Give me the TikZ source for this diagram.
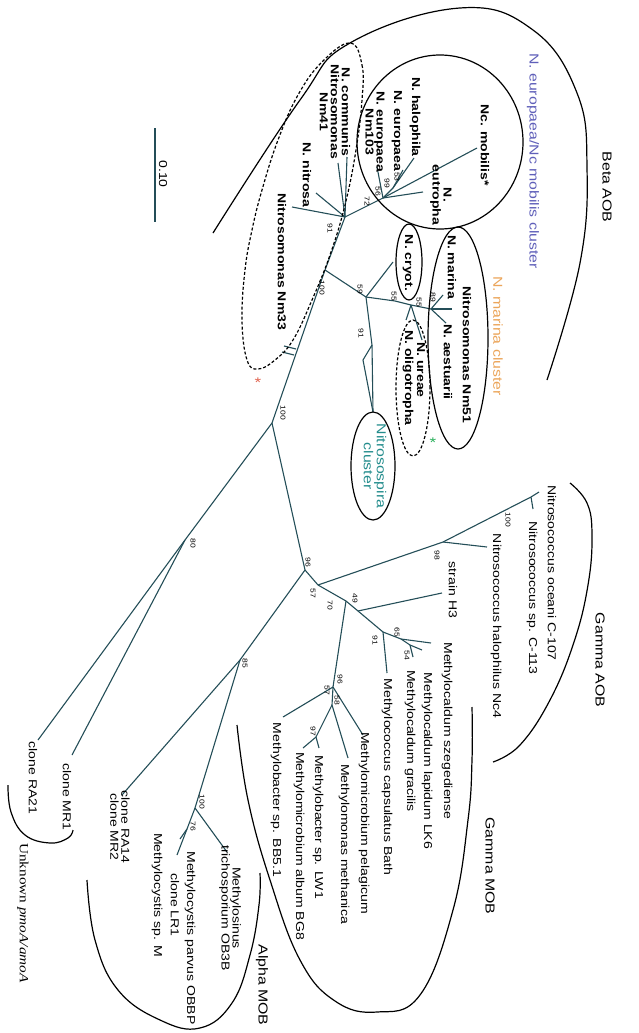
\documentclass[tikz,border=0pt]{standalone}
\usepackage{fontspec}
\setmainfont{Liberation Sans}[FakeStretch=1.22]
\newfontfamily\unkfont{Liberation Serif}[FakeStretch=1.22]
\usetikzlibrary{positioning,calc}
\definecolor{branchcol}{RGB}{36,78,88}
\definecolor{eurocol}{RGB}{95,95,185}
\definecolor{marcol}{RGB}{235,165,90}
\definecolor{spiracol}{RGB}{35,140,140}
\definecolor{redstar}{RGB}{225,100,80}
\definecolor{greenstar}{RGB}{40,175,90}

\begin{document}
\begin{tikzpicture}[
		x=1pt, y=-1pt,
		taxon/.style={rotate=-90, inner sep=0pt, align=center, font=\fontsize{11.5}{11}\selectfont},
		btaxon/.style={taxon, font=\fontsize{11.5}{11}\selectfont\bfseries},
		grouplab/.style={rotate=-90, inner sep=0pt, align=center, font=\fontsize{13}{13}\selectfont},
		boot/.style={rotate=-90, inner sep=0pt, font=\fontsize{7}{7}\selectfont},
		branch/.style={draw=branchcol, line width=1.1pt},
		hull/.style={draw=black, line width=1.2pt},
		dhull/.style={hull, dash pattern=on 3pt off 2pt}
		]
		\useasboundingbox (0,0) rectangle (638,1033);
		
		% ======================
		% Tree nodes
		% ======================
		\coordinate (b0) at (345,217);
		\coordinate (e0) at (383,198);
		\coordinate (e1) at (393,188);
		\coordinate (n1) at (325,270);
		\coordinate (ns) at (366,297);
		\coordinate (sp1) at (372,345);
		\coordinate (sp2) at (363,360);
		\coordinate (m1) at (395,301);
		\coordinate (m2) at (411,305);
		\coordinate (m3) at (431,309);
		\coordinate (n2) at (272,423);
		\coordinate (u0) at (185,540);
		\coordinate (g0) at (305,570);
		\coordinate (g1) at (318,585);
		\coordinate (gA) at (443,542);
		\coordinate (gB) at (531,497);
		\coordinate (g2) at (346,601);
		\coordinate (h0) at (358,611);
		\coordinate (g3) at (383,632);
		\coordinate (c0) at (401,639);
		\coordinate (c1) at (410,645);
		\coordinate (mo0) at (333,687);
		\coordinate (mo1) at (332,705);
		\coordinate (mo2) at (316,737);
		\coordinate (a0) at (240,660);
		\coordinate (a1) at (195,808);
		\coordinate (a2) at (187,829);
		
		% ======================
		% Tips
		% ======================
		\coordinate (tNitrosa) at (316,193);
		\coordinate (tNm33) at (292,207);
		\coordinate (tCommunis) at (347,157);
		\coordinate (tNm41) at (338,163);
		\coordinate (tMobilis) at (477,148);
		\coordinate (tEutropha) at (423,192);
		\coordinate (tHalophila) at (414,158);
		\coordinate (tEuropaea) at (403,170);
		\coordinate (tNm103) at (377,167);
		\coordinate (tCryot) at (393,262);
		\coordinate (tSpira) at (373,412);
		\coordinate (tUreae) at (422,340);
		\coordinate (tOligo) at (406,320);
		\coordinate (tMarina) at (443,295);
		\coordinate (tAestuarii) at (446,323);
		\coordinate (tNm51) at (452,309);
		\coordinate (tRA21) at (38,740);
		\coordinate (tMR1) at (72,755);
		\coordinate (tOceani) at (539,492);
		\coordinate (tC113) at (533,509);
		\coordinate (tNc4) at (487,547);
		\coordinate (tH3) at (442,593);
		\coordinate (tSzeg) at (431,643);
		\coordinate (tLapidum) at (422,650);
		\coordinate (tGracilis) at (413,657);
		\coordinate (tBath) at (387,673);
		\coordinate (tPelagicum) at (363,735);
		\coordinate (tBB51) at (283,717);
		\coordinate (tMethanica) at (348,758);
		\coordinate (tLW1) at (319,748);
		\coordinate (tBG8) at (303,748);
		\coordinate (tRA14) at (122,795);
		\coordinate (tSinus) at (227,852);
		\coordinate (tParvus) at (177,855);
		\coordinate (tLR1) at (180,839);
		
		% ======================
		% Branches
		% ======================
		\draw[branch] (b0) -- (n1) -- (n2);
		\draw[branch] (b0) -- (tNitrosa);
		\draw[branch] (b0) -- (tNm33);
		\draw[branch] (b0) -- (tCommunis);
		\draw[branch] (b0) -- (tNm41);
		\draw[branch] (b0) -- (e0);
		\draw[branch] (e0) -- (tMobilis);
		\draw[branch] (e0) -- (tEutropha);
		\draw[branch] (e0) -- (tNm103);
		\draw[branch] (e0) -- (e1);
		\draw[branch] (e1) -- (tHalophila);
		\draw[branch] (e1) -- (tEuropaea);
		\draw[branch] (n1) -- (ns);
		\draw[branch] (ns) -- (tCryot);
		\draw[branch] (ns) -- (sp1) -- (tSpira);
		\draw[branch] (sp1) -- (sp2) -- (tSpira);
		\draw[branch] (ns) -- (m1) -- (m2) -- (m3);
		\draw[branch] (m2) -- (tUreae);
		\draw[branch] (m2) -- (tOligo);
		\draw[branch] (m3) -- (tMarina);
		\draw[branch] (m3) -- (tAestuarii);
		\draw[branch] (m3) -- (tNm51);
		\draw[branch] (n2) -- (u0);
		\draw[branch] (u0) -- (tRA21);
		\draw[branch] (u0) -- (tMR1);
		\draw[branch] (n2) -- (g0);
		\draw[branch] (g0) -- (a0);
		\draw[branch] (g0) -- (g1);
		\draw[branch] (g1) -- (gA) -- (gB) -- (tOceani);
		\draw[branch] (gB) -- (tC113);
		\draw[branch] (gA) -- (tNc4);
		\draw[branch] (g1) -- (g2) -- (h0) -- (g3);
		\draw[branch] (h0) -- (tH3);
		\draw[branch] (g3) -- (c0) -- (tSzeg);
		\draw[branch] (c0) -- (c1) -- (tLapidum);
		\draw[branch] (c1) -- (tGracilis);
		\draw[branch] (g3) -- (tBath);
		\draw[branch] (g2) -- (mo0);
		\draw[branch] (mo0) -- (tPelagicum);
		\draw[branch] (mo0) -- (tBB51);
		\draw[branch] (mo0) -- (mo1) -- (tMethanica);
		\draw[branch] (mo1) -- (mo2) -- (tLW1);
		\draw[branch] (mo2) -- (tBG8);
		\draw[branch] (a0) -- (tRA14);
		\draw[branch] (a0) -- (a1) -- (tSinus);
		\draw[branch] (a1) -- (a2) -- (tParvus);
		\draw[branch] (a2) -- (tLR1);
		
		% break marks on the trunk
		\draw[branch] (284,346) -- ++(12,3);
		\draw[branch] (282,352) -- ++(12,3);
		
		% ======================
		% Bootstrap values
		% ======================
		\node[boot] (bs1) at (330,228) {91};
		\node[boot] (bs2) at (367,201) {72};
		\node[boot] (bs3) at (378,191) {56};
		\node[boot] (bs4) at (387,183) {99};
		\node[boot] (bs5) at (397,177) {53};
		\node[boot] (bs6) at (322,288) {100};
		\node[boot] (bs7) at (360,289) {59};
		\node[boot] (bs8) at (361,333) {91};
		\node[boot] (bs9) at (394,296) {55};
		\node[boot] (bs10) at (419,302) {55};
		\node[boot] (bs11) at (433,297) {89};
		\node[boot] (bs12) at (283,413) {100};
		\node[boot] (bs13) at (193,543) {80};
		\node[boot] (bs14) at (308,562) {96};
		\node[boot] (bs15) at (313,593) {57};
		\node[boot] (bs16) at (330,605) {70};
		\node[boot] (bs17) at (355,598) {49};
		\node[boot] (bs18) at (437,555) {98};
		\node[boot] (bs19) at (508,520) {100};
		\node[boot] (bs20) at (375,640) {91};
		\node[boot] (bs21) at (397,632) {65};
		\node[boot] (bs22) at (407,655) {54};
		\node[boot] (bs23) at (340,679) {96};
		\node[boot] (bs24) at (327,690) {57};
		\node[boot] (bs25) at (337,700) {58};
		\node[boot] (bs26) at (313,731) {97};
		\node[boot] (bs27) at (245,663) {85};
		\node[boot] (bs28) at (202,802) {100};
		\node[boot] (bs29) at (193,826) {76};
		
		% ======================
		% Beta AOB
		% ======================
		\draw[hull] plot[smooth, tension=0.7] coordinates {(213,233) (300,100) (350,43) (460,8) (533,30) (577,93) (587,167) (580,263) (547,380)};
		\node[grouplab] (betalab) at (607,187) {Beta AOB};
		\node[grouplab, text=eurocol] (eurolab) at (533,161) {N. europaea/Nc mobilis cluster};
		\node[grouplab, text=marcol] (marlab) at (498,336) {N. marina cluster};
		
		\draw[hull] (440,142) ellipse [x radius=83pt, y radius=87pt];
		\draw[hull] (409,262) ellipse [x radius=13pt, y radius=38pt];
		\draw[hull] (458,338) ellipse [x radius=30pt, y radius=111pt];
		\draw[dhull] (413,388) ellipse [x radius=17pt, y radius=68pt];
		\draw[hull] (373,466) ellipse [x radius=22pt, y radius=54pt];
		\draw[dhull] plot[smooth cycle, tension=0.7] coordinates {(350,43) (362,65) (362,100) (356,150) (345,205) (330,255) (312,300) (293,340) (275,360) (258,369) (247,360) (242,320) (245,270) (252,230) (262,190) (278,140) (298,95) (322,62)};
		
		\node[btaxon] (mobilis) at (485,145) {Nc. mobilis*};
		\node[btaxon] (eutropha) at (441,195) {N.\\eutropha};
		\node[btaxon] (halophila) at (415,117) {N. halophila};
		\node[btaxon] (europaea) at (397,131) {N. europaea};
		\node[btaxon] (nm103) at (375,132) {N. europaea\\Nm103};
		\node[btaxon] (communis) at (335,112) {N. communis\\Nitrosomonas\\Nm41};
		\node[btaxon] (nitrosa) at (307,175) {N. nitrosa};
		\node[btaxon] (nm33) at (282,262) {Nitrosomonas Nm33};
		\node[btaxon] (cryot) at (408,263) {N. cryot.};
		\node[btaxon] (marina) at (452,267) {N. marina};
		\node[btaxon] (nm51) at (467,355) {Nitrosomonas Nm51};
		\node[btaxon] (aestuarii) at (448,362) {N. aestuarii};
		\node[btaxon] (ureae) at (421,370) {N. ureae};
		\node[btaxon] (oligo) at (408,378) {N. oligotropha};
		\node[grouplab, text=spiracol] (spira) at (375,466) {Nitrosospira\\cluster};
		
		\node[text=redstar, font=\fontsize{14}{14}\selectfont] (star1) at (258,383) {*};
		\node[text=greenstar, font=\fontsize{14}{14}\selectfont] (star2) at (433,443) {*};
		
		% scale bar
		\coordinate (sbtop) at (155,128);
		\coordinate (sbbot) at (155,222);
		\draw[branch] (sbtop) -- (sbbot);
		\node[taxon] (sblab) at (163,174) {0.10};
		
		% ======================
		% Gamma AOB
		% ======================
		\draw[hull] plot[smooth, tension=0.7] coordinates {(570,483) (587,503) (592,535) (588,585) (574,642) (550,700) (520,745) (493,762)};
		\node[grouplab] (gaoblab) at (600,660) {Gamma AOB};
		\node[taxon] (oceani) at (552,573) {Nitrosococcus oceani C-107};
		\node[taxon] (c113) at (532,598) {Nitrosococcus sp. C-113};
		\node[taxon] (nc4) at (496,626) {Nitrosococcus halophilus Nc4};
		\node[taxon] (h3) at (453,590) {strain H3};
		
		% ======================
		% Gamma MOB
		% ======================
		\draw[hull] plot[smooth, tension=0.7] coordinates {(237,725) (248,800) (270,880) (300,960) (335,1001) (377,1012) (420,995) (453,910) (468,820) (472,760) (472,707)};
		\node[grouplab] (gmoblab) at (490,866) {Gamma MOB};
		\node[taxon] (szeg) at (447,731) {Methylocaldum szegediense};
		\node[taxon] (lapidum) at (427,761) {Methylocaldum lapidum LK6};
		\node[taxon] (gracilis) at (410,741) {Methylocaldum gracilis};
		\node[taxon] (bath) at (387,777) {Methylococcus capsulatus Bath};
		\node[taxon] (pelagicum) at (364,823) {Methylomicrobium pelagicum};
		\node[taxon] (methanica) at (344,844) {Methylomonas methanica};
		\node[taxon] (lw1) at (318,827) {Methylobacter sp. LW1};
		\node[taxon] (bg8) at (299,846) {Methylomicrobium album BG8};
		\node[taxon] (bb51) at (276,800) {Methylobacter sp. BB5.1};
		
		% ======================
		% Alpha MOB
		% ======================
		\draw[hull] plot[smooth, tension=0.7] coordinates {(87,880) (95,940) (118,990) (160,1020) (200,1028) (232,1003) (250,955) (259,905) (260,873)};
		\node[grouplab] (amoblab) at (262,985) {Alpha MOB};
		\node[taxon] (sinus) at (230,908) {Methylosinus\\trichosporium OB3B};
		\node[taxon] (parvus) at (190,938) {Methylocystis parvus OBBP};
		\node[taxon] (lr1) at (175,905) {clone LR1};
		\node[taxon] (spm) at (157,895) {Methylocystis sp. M};
		\node[taxon] (ra14) at (120,827) {clone RA14\\clone MR2};
		
		% ======================
		% Unknown pmoA/amoA
		% ======================
		\node[taxon] (mr1) at (67,797) {clone MR1};
		\node[taxon] (ra21) at (33,778) {clone RA21};
		\draw[hull] plot[smooth, tension=0.7] coordinates {(8,785) (11,812) (25,835) (50,843) (68,838) (73,830)};
		\node[grouplab, font=\unkfont\fontsize{12.5}{13}\selectfont] (unklab) at (23,913) {Unknown \textit{pmoA/amoA}};
		
	\end{tikzpicture}
\end{document}
